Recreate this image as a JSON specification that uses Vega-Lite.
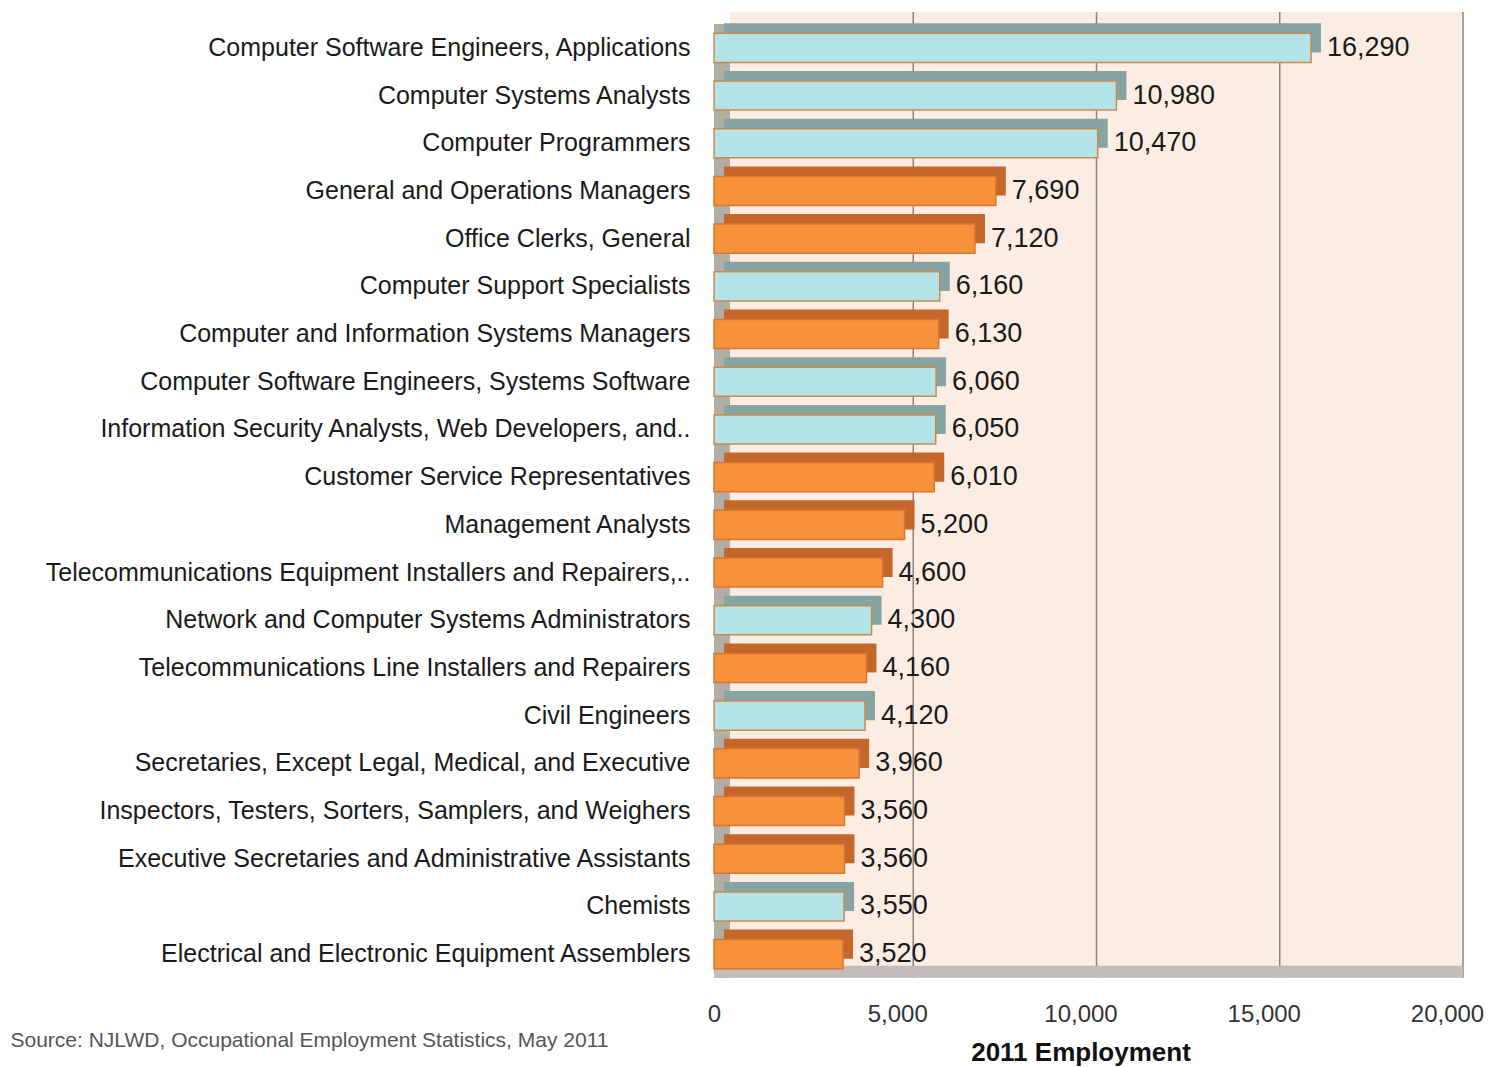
{
  "$schema": "https://vega.github.io/schema/vega-lite/v6.json",
  "width": 733,
  "height": 954,
  "autosize": {"type": "none"},
  "padding": {"left": 714, "top": 24, "right": 41, "bottom": 89},
  "background": "white",
  "view": {"stroke": null},
  "config": {
    "font": "Liberation Sans",
    "numberFormat": ",",
    "axisX": {"grid": false, "domain": false, "ticks": false, "labelFlush": false, "labelPadding": 24, "labelFontSize": 24, "labelColor": "#333333", "titleFontSize": 26, "titleFontWeight": "bold", "titleColor": "#111111", "titlePadding": 13},
    "axisY": {"domain": false, "ticks": false, "labelPadding": 24, "labelFontSize": 25, "labelColor": "#1a1a1a", "labelLimit": 900, "titleAngle": 0, "titleX": -704, "titleY": 1016, "titleAlign": "left", "titleBaseline": "middle", "titleFontSize": 21, "titleFontWeight": "normal", "titleColor": "#555555"}
  },
  "data": {
    "values": [
      {"occ": "Computer Software Engineers, Applications", "emp": 16290, "g": "c"},
      {"occ": "Computer Systems Analysts", "emp": 10980, "g": "c"},
      {"occ": "Computer Programmers", "emp": 10470, "g": "c"},
      {"occ": "General and Operations Managers", "emp": 7690, "g": "o"},
      {"occ": "Office Clerks, General", "emp": 7120, "g": "o"},
      {"occ": "Computer Support Specialists", "emp": 6160, "g": "c"},
      {"occ": "Computer and Information Systems Managers", "emp": 6130, "g": "o"},
      {"occ": "Computer Software Engineers, Systems Software", "emp": 6060, "g": "c"},
      {"occ": "Information Security Analysts, Web Developers, and..", "emp": 6050, "g": "c"},
      {"occ": "Customer Service Representatives", "emp": 6010, "g": "o"},
      {"occ": "Management Analysts", "emp": 5200, "g": "o"},
      {"occ": "Telecommunications Equipment Installers and Repairers,..", "emp": 4600, "g": "o"},
      {"occ": "Network and Computer Systems Administrators", "emp": 4300, "g": "c"},
      {"occ": "Telecommunications Line Installers and Repairers", "emp": 4160, "g": "o"},
      {"occ": "Civil Engineers", "emp": 4120, "g": "c"},
      {"occ": "Secretaries, Except Legal, Medical, and Executive", "emp": 3960, "g": "o"},
      {"occ": "Inspectors, Testers, Sorters, Samplers, and Weighers", "emp": 3560, "g": "o"},
      {"occ": "Executive Secretaries and Administrative Assistants", "emp": 3560, "g": "o"},
      {"occ": "Chemists", "emp": 3550, "g": "c"},
      {"occ": "Electrical and Electronic Equipment Assemblers", "emp": 3520, "g": "o"}
    ]
  },
  "layer": [
    {
      "data": {"values": [{"part": "floor"}]},
      "mark": {"type": "rect", "fill": "#b3ada7", "x2Offset": 16},
      "encoding": {
        "x": {"datum": 0, "type": "quantitative", "scale": {"domain": [0, 20000], "nice": false}, "title": "2011 Employment", "axis": {"values": [0, 5000, 10000, 15000, 20000], "labelExpr": "format(datum.value, ',')"}},
        "x2": {"datum": 20000}
      }
    },
    {
      "data": {"values": [{"part": "wall"}]},
      "mark": {"type": "rect", "fill": "#fcede4", "xOffset": 16, "x2Offset": 16, "yOffset": -12},
      "encoding": {
        "x": {"datum": 0, "type": "quantitative", "title": "2011 Employment", "axis": {"values": [0, 5000, 10000, 15000, 20000], "labelExpr": "format(datum.value, ',')"}},
        "x2": {"datum": 20000}
      }
    },
    {
      "data": {"values": [{"grid": 5000}, {"grid": 10000}, {"grid": 15000}, {"grid": 20000}]},
      "mark": {"type": "rule", "color": "#8a8480", "strokeWidth": 1.5, "xOffset": 16, "yOffset": -12},
      "encoding": {"x": {"field": "grid", "type": "quantitative", "title": "2011 Employment", "axis": {"values": [0, 5000, 10000, 15000, 20000], "labelExpr": "format(datum.value, ',')"}}}
    },
    {
      "data": {"values": [{"part": "floorstrip"}]},
      "mark": {"type": "rule", "color": "#c2bdb8", "strokeWidth": 12, "yOffset": 3, "x2Offset": 16},
      "encoding": {
        "x": {"datum": 0, "type": "quantitative", "title": "2011 Employment", "axis": {"values": [0, 5000, 10000, 15000, 20000], "labelExpr": "format(datum.value, ',')"}},
        "x2": {"datum": 20000},
        "y": {"datum": "Electrical and Electronic Equipment Assemblers", "type": "nominal", "bandPosition": 1, "title": "Source: NJLWD, Occupational Employment Statistics, May 2011",
          "scale": {"paddingInner": 0.39, "paddingOuter": 0.195, "domain": [
            "Computer Software Engineers, Applications",
            "Computer Systems Analysts",
            "Computer Programmers",
            "General and Operations Managers",
            "Office Clerks, General",
            "Computer Support Specialists",
            "Computer and Information Systems Managers",
            "Computer Software Engineers, Systems Software",
            "Information Security Analysts, Web Developers, and..",
            "Customer Service Representatives",
            "Management Analysts",
            "Telecommunications Equipment Installers and Repairers,..",
            "Network and Computer Systems Administrators",
            "Telecommunications Line Installers and Repairers",
            "Civil Engineers",
            "Secretaries, Except Legal, Medical, and Executive",
            "Inspectors, Testers, Sorters, Samplers, and Weighers",
            "Executive Secretaries and Administrative Assistants",
            "Chemists",
            "Electrical and Electronic Equipment Assemblers"
          ]}}
      }
    },
    {
      "mark": {"type": "bar", "xOffset": 10, "x2Offset": 10, "yOffset": -10, "y2Offset": -10},
      "encoding": {
        "y": {"field": "occ", "type": "nominal", "sort": null, "title": "Source: NJLWD, Occupational Employment Statistics, May 2011"},
        "x": {"field": "emp", "type": "quantitative", "title": "2011 Employment", "axis": {"values": [0, 5000, 10000, 15000, 20000], "labelExpr": "format(datum.value, ',')"}},
        "color": {"condition": {"test": "datum.g === 'c'", "value": "#86a4a2"}, "value": "#c5672a"}
      }
    },
    {
      "mark": {"type": "bar", "strokeWidth": 1.5},
      "encoding": {
        "y": {"field": "occ", "type": "nominal", "sort": null, "title": "Source: NJLWD, Occupational Employment Statistics, May 2011"},
        "x": {"field": "emp", "type": "quantitative", "title": "2011 Employment", "axis": {"values": [0, 5000, 10000, 15000, 20000], "labelExpr": "format(datum.value, ',')"}},
        "color": {"condition": {"test": "datum.g === 'c'", "value": "#b4e3e7"}, "value": "#f7923c"},
        "stroke": {"condition": {"test": "datum.g === 'c'", "value": "#c98a50"}, "value": "#d9762e"}
      }
    },
    {
      "mark": {"type": "text", "align": "left", "baseline": "middle", "dx": 16, "fontSize": 27, "color": "#1a1a1a"},
      "encoding": {
        "y": {"field": "occ", "type": "nominal", "sort": null, "title": "Source: NJLWD, Occupational Employment Statistics, May 2011"},
        "x": {"field": "emp", "type": "quantitative", "title": "2011 Employment", "axis": {"values": [0, 5000, 10000, 15000, 20000], "labelExpr": "format(datum.value, ',')"}},
        "text": {"field": "emp", "type": "quantitative", "format": ","}
      }
    }
  ]
}
